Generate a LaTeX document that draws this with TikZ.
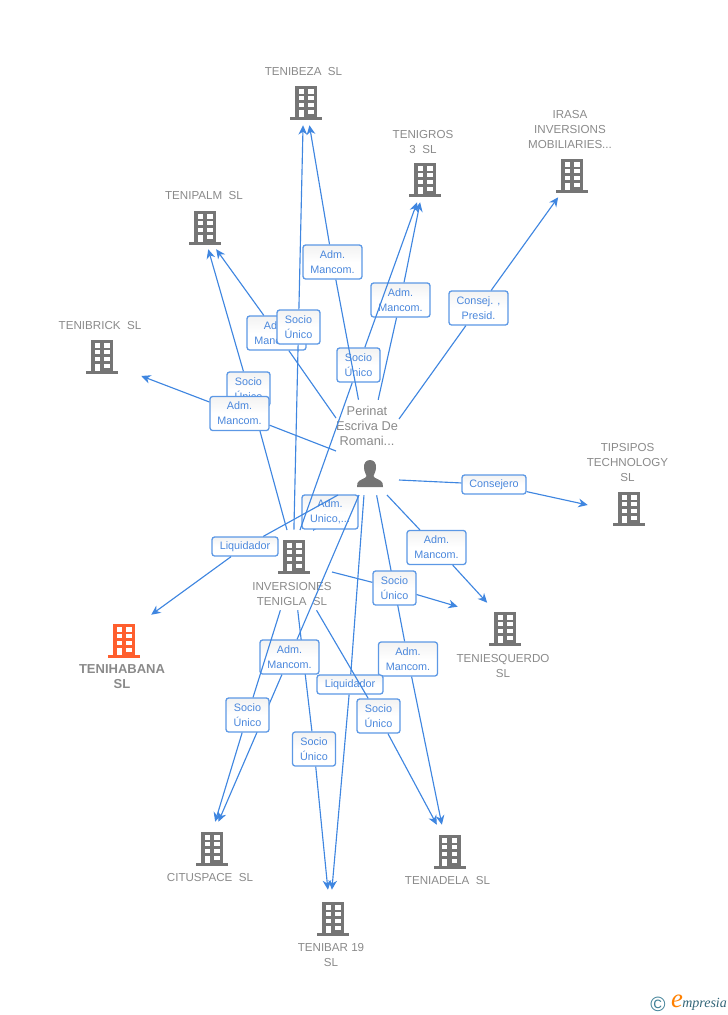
\documentclass[tikz,border=0pt]{standalone}
\usepackage{fontspec}
\setmainfont{Liberation Sans}
\newfontfamily\logofont{Liberation Serif}
\usepackage{xcolor}
\usetikzlibrary{arrows.meta}
\definecolor{linkblue}{HTML}{3F86E0}
\definecolor{tagblue}{HTML}{4A87DC}
\definecolor{bldgray}{HTML}{757575}
\definecolor{txtgray}{HTML}{8A8A8A}
\definecolor{bldorange}{HTML}{FF5F2E}
\definecolor{logoteal}{HTML}{3E7F96}
\tikzset{
    hub/.style={rectangle, inner sep=0pt},
    tag/.style={rectangle, draw=linkblue!85!white, line width=0.95pt, rounded corners=2pt, top color=black!5, bottom color=white, middle color=white, text=tagblue, align=center, inner sep=0pt, font=\fontsize{8.1}{11.25}\selectfont},
    link/.style={draw=linkblue, line width=0.85pt, -{Stealth[length=7pt,width=6.5pt,inset=2.2pt]}},
    firmname/.style={text=txtgray, align=center, inner sep=0pt, font=\fontsize{8.7}{11.25}\selectfont},
    pics/block/.style={code={
        \fill[#1] (-11,-16) rectangle (11,14.5);
        \fill[#1] (-16,14.5) rectangle (16,17.5);
        \foreach \wy in {-12.7,-6,0.7} {
            \fill[white] (-7.5,\wy) rectangle ++(5.3,4.2);
            \fill[white] (2.2,\wy) rectangle ++(5.3,4.2);
        }
        \fill[white] (-7.5,7.5) rectangle (-2.2,14.5);
        \fill[white] (2.2,7.5) rectangle (7.5,11.7);
    }},
    pics/block/.default=bldgray
}
\begin{document}
\begin{tikzpicture}[x=0.75pt, y=-0.75pt]
    \useasboundingbox (0,0) rectangle (728,1015);
    % Building icons
    \foreach \x/\y in {306/102,425/179,572/175,205/227,102/356,629/508,294/556,505/628,449.5/851,212/848,333/918} {
        \pic at (\x,\y) {block};
    }
    \pic at (124,640) {block=bldorange};
    % Person icon
    \fill[bldgray] (370,460) .. controls (365.5,460) and (363.5,464) .. (364,468) .. controls (364.3,472) and (366,474) .. (366.5,476) .. controls (366.5,478.5) and (358.5,479.5) .. (357.5,483) -- (357,487) -- (383,487) -- (382.5,483) .. controls (381.5,479.5) and (373.5,478.5) .. (373.5,476) .. controls (374,474) and (375.7,472) .. (376,468) .. controls (376.5,464) and (374.5,460) .. (370,460) -- cycle;
    % Company names
    \foreach \nm/\x/\y/\txt in {beza/303.5/71.5/{TENIBEZA\ \ SL},gros/423/141.5/{TENIGROS\\3\ \ SL},irasa/570/129/{IRASA\\INVERSIONS\\MOBILIARIES...},palm/204/195.5/{TENIPALM\ \ SL},brick/100/325/{TENIBRICK\ \ SL},tips/627.5/462/{TIPSIPOS\\TECHNOLOGY\\SL},inver/292/593.5/{INVERSIONES\\TENIGLA\ \ SL},esq/503/665.5/{TENIESQUERDO\\SL},adela/447.5/880/{TENIADELA\ \ SL},bar/331/954.5/{TENIBAR 19\\SL},citu/210/877/{CITUSPACE\ \ SL}} {
        \node[firmname] (\nm name) at (\x,\y) {\txt};
    }
    \node[firmname, font=\fontsize{9.75}{11.25}\selectfont\bfseries] (habana name) at (122,676.5) {TENIHABANA\\SL};
    \node[firmname, font=\fontsize{9.6}{11.25}\selectfont] (perinat name) at (367,426) {Perinat\\Escriva De\\Romani...};
    % Invisible boxes the connectors stop at
    \foreach \nm/\x/\y/\w/\h in {perinat/367.5/447.5/63/95,inver/293/570/78/80,beza/303.8/92/80/66,gros/424/183/60/38,irasa/572/178/80/38,palm/203/231/80/36,brick/102/361/78/60,tips/629/514/82/60,esq/503/620/90/34,adela/445/840/60/30,citu/207.5/847/60/50,bar/330/911/60/42,habana/122/636/60/42} {
        \node[hub, minimum width=\w*0.75pt, minimum height=\h*0.75pt] (\nm) at (\x,\y) {};
    }
    % Free ends of the connectors
    \coordinate (perinatL) at (338,495);
    \coordinate (perinatP) at (336,418);
    \coordinate (perinatB) at (336,451);
    \coordinate (perinatC) at (399,419);
    \coordinate (perinatJ) at (399,480);
    \coordinate (perinatE) at (387,495);
    \coordinate (perinatU) at (359,495);
    \coordinate (inverT) at (300,530);
    \coordinate (inverP) at (287,530);
    \coordinate (inverS) at (332,572);
    \coordinate (inverA) at (313,531);
    % This one nearly hides under its label
    \draw[link] (perinat) -- (inverA);
    \node[tag, minimum width=42pt, minimum height=25.5pt] (a13) at (330,512) {Adm.\\Unico,...};
    % Labels and connectors, later ones lie over earlier ones
    \foreach \nm/\x/\y/\w/\h/\txt/\from/\to in {
        a1/400.5/300/59/34/{Adm.\\Mancom.}/perinat/gros,
        a2/358.5/365/43/34/{Socio\\Único}/inverT/gros,
        a3/332.5/262/59/34/{Adm.\\Mancom.}/perinat/beza,
        a4/276.5/333/59/34/{Adm.\\Mancom.}/perinatP/palm,
        a5/298.5/327/43/34/{Socio\\Único}/inver/beza,
        a6/248.5/389/43/34/{Socio\\Único}/inverP/palm,
        a7/239.5/413.5/59/34/{Adm.\\Mancom.}/perinatB/brick,
        a8/478.5/308/59/34/{Consej. ,\\Presid.}/perinatC/irasa,
        a9/494/484.5/64/19/{Consejero}/perinatJ/tips,
        a10/436.5/547.5/59/34/{Adm.\\Mancom.}/perinatE/esq,
        a11/408/659/59/34/{Adm.\\Mancom.}/perinat/adela,
        a12/394.5/588/43/34/{Socio\\Único}/inverS/esq,
        a14/245/546.5/66/19/{Liquidador}/perinatL/habana,
        a15/314/749/43/34/{Socio\\Único}/inver/bar,
        a16/289.5/657/59/34/{Adm.\\Mancom.}/perinatU/citu,
        a17/247.5/715/43/34/{Socio\\Único}/inver/citu,
        a18/350/684.5/66/19/{Liquidador}/perinat/bar,
        a19/378.5/716/43/34/{Socio\\Único}/inver/adela%
    } {
        \node[tag, minimum width=\w*0.75pt, minimum height=\h*0.75pt] (\nm) at (\x,\y) {\txt};
        \draw[link] (\from) -- (\nm) -- (\to);
    }
    % Logo
    \node[text=logoteal, inner sep=0pt, font=\fontsize{15.5}{15.5}\selectfont] (logomark) at (658,1004) {©};
    \node[text=orange, inner sep=0pt, font=\logofont\itshape\fontsize{20}{20}\selectfont] (logoe) at (677,1001) {e};
    \node[text=logoteal!80!black, inner sep=0pt, anchor=west, font=\logofont\itshape\fontsize{10.5}{10.5}\selectfont] (logotext) at (682,1004) {mpresia};
\end{tikzpicture}
\end{document}
